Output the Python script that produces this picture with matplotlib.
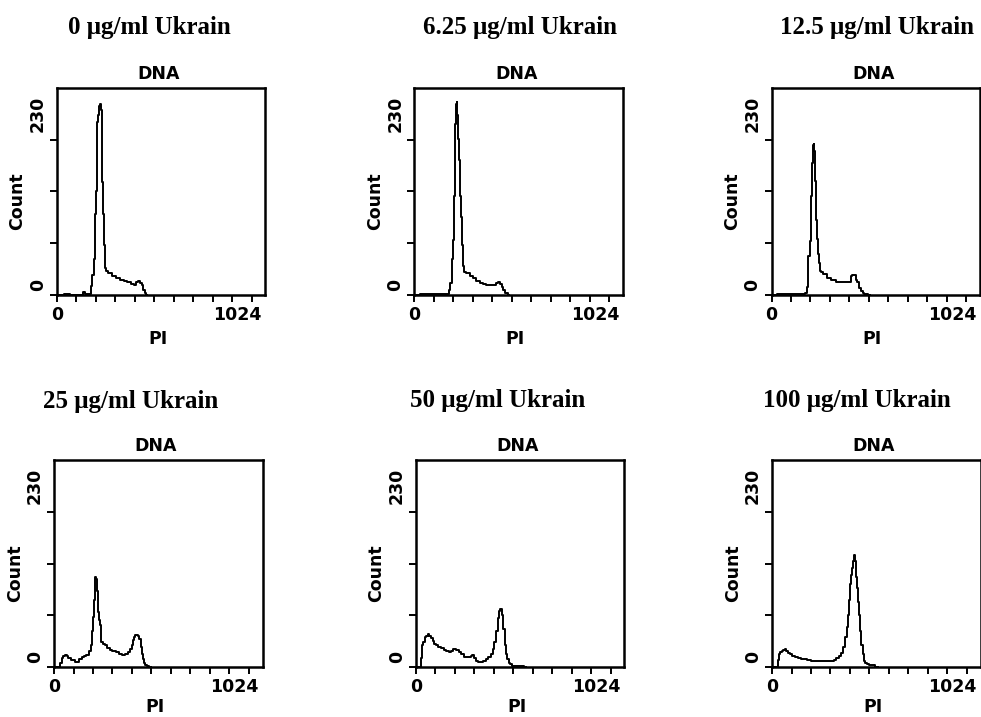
import matplotlib.pyplot as plt
import numpy as np

titles = ['0 μg/ml Ukrain', '6.25 μg/ml Ukrain', '12.5 μg/ml Ukrain',
          '25 μg/ml Ukrain', '50 μg/ml Ukrain', '100 μg/ml Ukrain']

# PI channel / cell count
pi_0 = [0, 30, 40, 60, 80, 130, 140, 150, 175, 182, 190, 196, 202, 206, 212, 218, 224,
        230, 236, 240, 244, 248, 252, 262, 280, 300, 320, 340, 360, 380, 400, 410, 420,
        430, 440, 450, 458, 466, 475]
cnt_0 = [0, 0, 1.5, 1, 0, 0, 3, 1, 1, 10, 22, 40, 90, 115, 192, 200, 210,
         212, 205, 125, 90, 56, 30, 27, 24, 21, 19, 17, 15, 14, 12, 11, 14,
         15, 13, 11, 6, 2, 0]

pi_1 = [0, 60, 100, 180, 186, 192, 200, 205, 210, 213, 217, 220, 224, 228, 231, 235, 240,
        244, 248, 253, 259, 265, 280, 300, 315, 335, 350, 370, 385, 400, 420, 435, 446,
        455, 464, 472, 481, 499]
cnt_1 = [0, 1, 1, 1, 5, 13, 40, 61, 110, 135, 190, 212, 214, 200, 173, 150, 135,
         110, 87, 55, 32, 26, 24, 21, 19, 16, 13, 12, 11, 11, 11, 13, 14,
         12, 9, 5, 2, 0]

pi_2 = [0, 60, 120, 175, 181, 188, 198, 203, 207, 211, 214, 217, 220, 224, 227, 232, 237,
        241, 246, 250, 255, 265, 280, 299, 325, 351, 370, 386, 413, 421, 430, 439, 447,
        457, 466, 474, 484, 492, 518]
cnt_2 = [0, 1, 1, 1, 2, 9, 43, 60, 76, 110, 147, 160, 167, 168, 160, 127, 83,
         62, 46, 35, 27, 25, 23, 19, 17, 14, 14, 14, 14, 21, 22, 22, 17,
         14, 8, 4, 2, 1, 0]

pi_3 = [0, 30, 36, 44, 52, 61, 70, 79, 100, 123, 140, 149, 165, 176, 190, 197, 203,
        207, 212, 216, 220, 224, 228, 234, 238, 242, 247, 251, 260, 272, 285, 299, 315,
        334, 350, 369, 382, 395, 405, 413, 420, 425, 432, 439, 446, 453, 460, 465,
        470, 474, 483, 492, 509]
cnt_3 = [0, 0, 5, 10, 12, 13, 12, 10, 8, 6, 9, 11, 12, 13, 18, 24, 40,
         56, 75, 89, 100, 98, 85, 61, 52, 47, 36, 28, 26, 24, 21, 19, 18,
         17, 15, 13, 14, 17, 20, 24, 30, 33, 36, 36, 34, 31, 22, 15,
         9, 4, 2, 1, 0]

pi_4 = [0, 25, 30, 36, 43, 50, 58, 67, 75, 83, 92, 101, 112, 124, 139, 154, 166,
        178, 191, 204, 217, 231, 244, 257, 270, 284, 293, 302, 311, 320, 333, 346, 360,
        373, 386, 399, 408, 417, 426, 435, 441, 446, 451, 456, 463, 470, 477, 485,
        491, 497, 510, 524, 545, 559, 577]
cnt_4 = [0, 0, 10, 24, 28, 33, 35, 37, 35, 32, 29, 26, 24, 22, 21, 19, 18,
         17, 18, 20, 19, 17, 14, 11, 11, 11, 12, 13, 10, 7, 6, 6, 7,
         9, 11, 15, 20, 28, 40, 54, 62, 65, 64, 58, 42, 24, 15, 9,
         5, 3, 1, 1, 1, 1, 0]

pi_5 = [0, 28, 32, 41, 47, 53, 62, 71, 80, 88, 100, 115, 128, 141, 160, 177, 195,
        212, 230, 247, 265, 283, 300, 318, 332, 344, 358, 371, 380, 389, 396, 403, 409,
        415, 420, 424, 428, 433, 437, 442, 446, 450, 455, 459, 466, 473, 480, 486,
        494, 503, 516, 530, 556]
cnt_5 = [0, 0, 8, 14, 17, 18, 19, 20, 18, 16, 15, 12, 11, 10, 9, 9, 8,
         7, 7, 7, 7, 7, 7, 7, 8, 10, 12, 16, 22, 33, 45, 58, 75,
         92, 102, 110, 118, 125, 118, 110, 100, 88, 72, 58, 40, 25, 15, 7,
         4, 3, 2, 2, 0]

pi_data = [pi_0, pi_1, pi_2, pi_3, pi_4, pi_5]
cnt_data = [cnt_0, cnt_1, cnt_2, cnt_3, cnt_4, cnt_5]

fig = plt.figure(figsize=(9.81, 7.17), dpi=100)

# axes frames in figure fractions, taken from the reference layout
lefts = [0.0581, 0.4225, 0.7865, 0.0551, 0.4240, 0.7870]
bottoms = [0.5886, 0.5886, 0.5886, 0.0697, 0.0697, 0.0697]
w, h = 0.2125, 0.2887
# title left edge / baseline in pixels
title_xy = [(68, 34), (423, 34), (780, 34), (43, 408), (410, 407), (763, 407)]
# bottom row "PI" sits against the lower edge, pull it up a little so it fits
pi_y = [-0.213, -0.213, -0.213, -0.192, -0.192, -0.192]

lab = dict(family='DejaVu Sans', fontweight='bold', fontsize=12.5, color='black')

for i in range(6):
    ax = fig.add_axes([lefts[i], bottoms[i], w, h])
    ax.plot(pi_data[i], cnt_data[i], color='black', lw=1.4, drawstyle='steps-mid')
    ax.set_xlim(0, 1097)
    ax.set_ylim(0, 230)
    ax.set_xticks(np.arange(11) * 102.4)
    ax.set_yticks(np.arange(4) * 57.5)
    ax.tick_params(direction='out', length=5, width=1.4, labelbottom=False, labelleft=False)
    for s in ax.spines.values():
        s.set_linewidth(1.8)

    ax.text(0.488, 1.024, 'DNA', transform=ax.transAxes, ha='center', va='bottom', **lab)
    ax.text(-0.189, 0.454, 'Count', transform=ax.transAxes, rotation=90,
            ha='center', va='center', **lab)
    ax.text(-0.091, 0.961, '230', transform=ax.transAxes, rotation=90,
            ha='center', va='top', **lab)
    ax.text(-0.091, 0.019, '0', transform=ax.transAxes, rotation=90,
            ha='center', va='bottom', **lab)
    ax.text(0.0, -0.097, '0', transform=ax.transAxes, ha='center', va='center', **lab)
    ax.text(0.981, -0.097, '1024', transform=ax.transAxes, ha='right', va='center', **lab)
    ax.text(0.483, pi_y[i], 'PI', transform=ax.transAxes, ha='center', va='center', **lab)

    tx, ty = title_xy[i]
    fig.text(tx / 981, 1 - ty / 717, titles[i], ha='left', va='baseline',
             family='Liberation Serif', fontweight='bold', fontsize=18)

fig.savefig('out.png', dpi=100)
